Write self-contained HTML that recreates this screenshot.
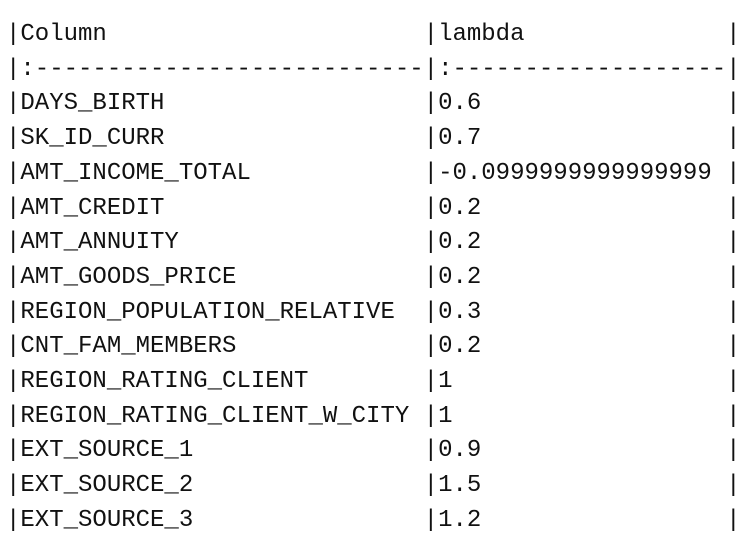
<!DOCTYPE html>
<html><head><meta charset="utf-8"><style>
html,body{margin:0;padding:0;background:#fff;width:756px;height:532px;overflow:hidden}
pre{position:absolute;left:6px;top:18px;margin:0;font-family:"Liberation Mono",monospace;font-size:24px;line-height:34.7px;color:#111}
</style></head><body>
<pre>|Column                      |lambda              |
|:---------------------------|:-------------------|
|DAYS_BIRTH                  |0.6                 |
|SK_ID_CURR                  |0.7                 |
|AMT_INCOME_TOTAL            |-0.0999999999999999 |
|AMT_CREDIT                  |0.2                 |
|AMT_ANNUITY                 |0.2                 |
|AMT_GOODS_PRICE             |0.2                 |
|REGION_POPULATION_RELATIVE  |0.3                 |
|CNT_FAM_MEMBERS             |0.2                 |
|REGION_RATING_CLIENT        |1                   |
|REGION_RATING_CLIENT_W_CITY |1                   |
|EXT_SOURCE_1                |0.9                 |
|EXT_SOURCE_2                |1.5                 |
|EXT_SOURCE_3                |1.2                 |</pre>
</body></html>
